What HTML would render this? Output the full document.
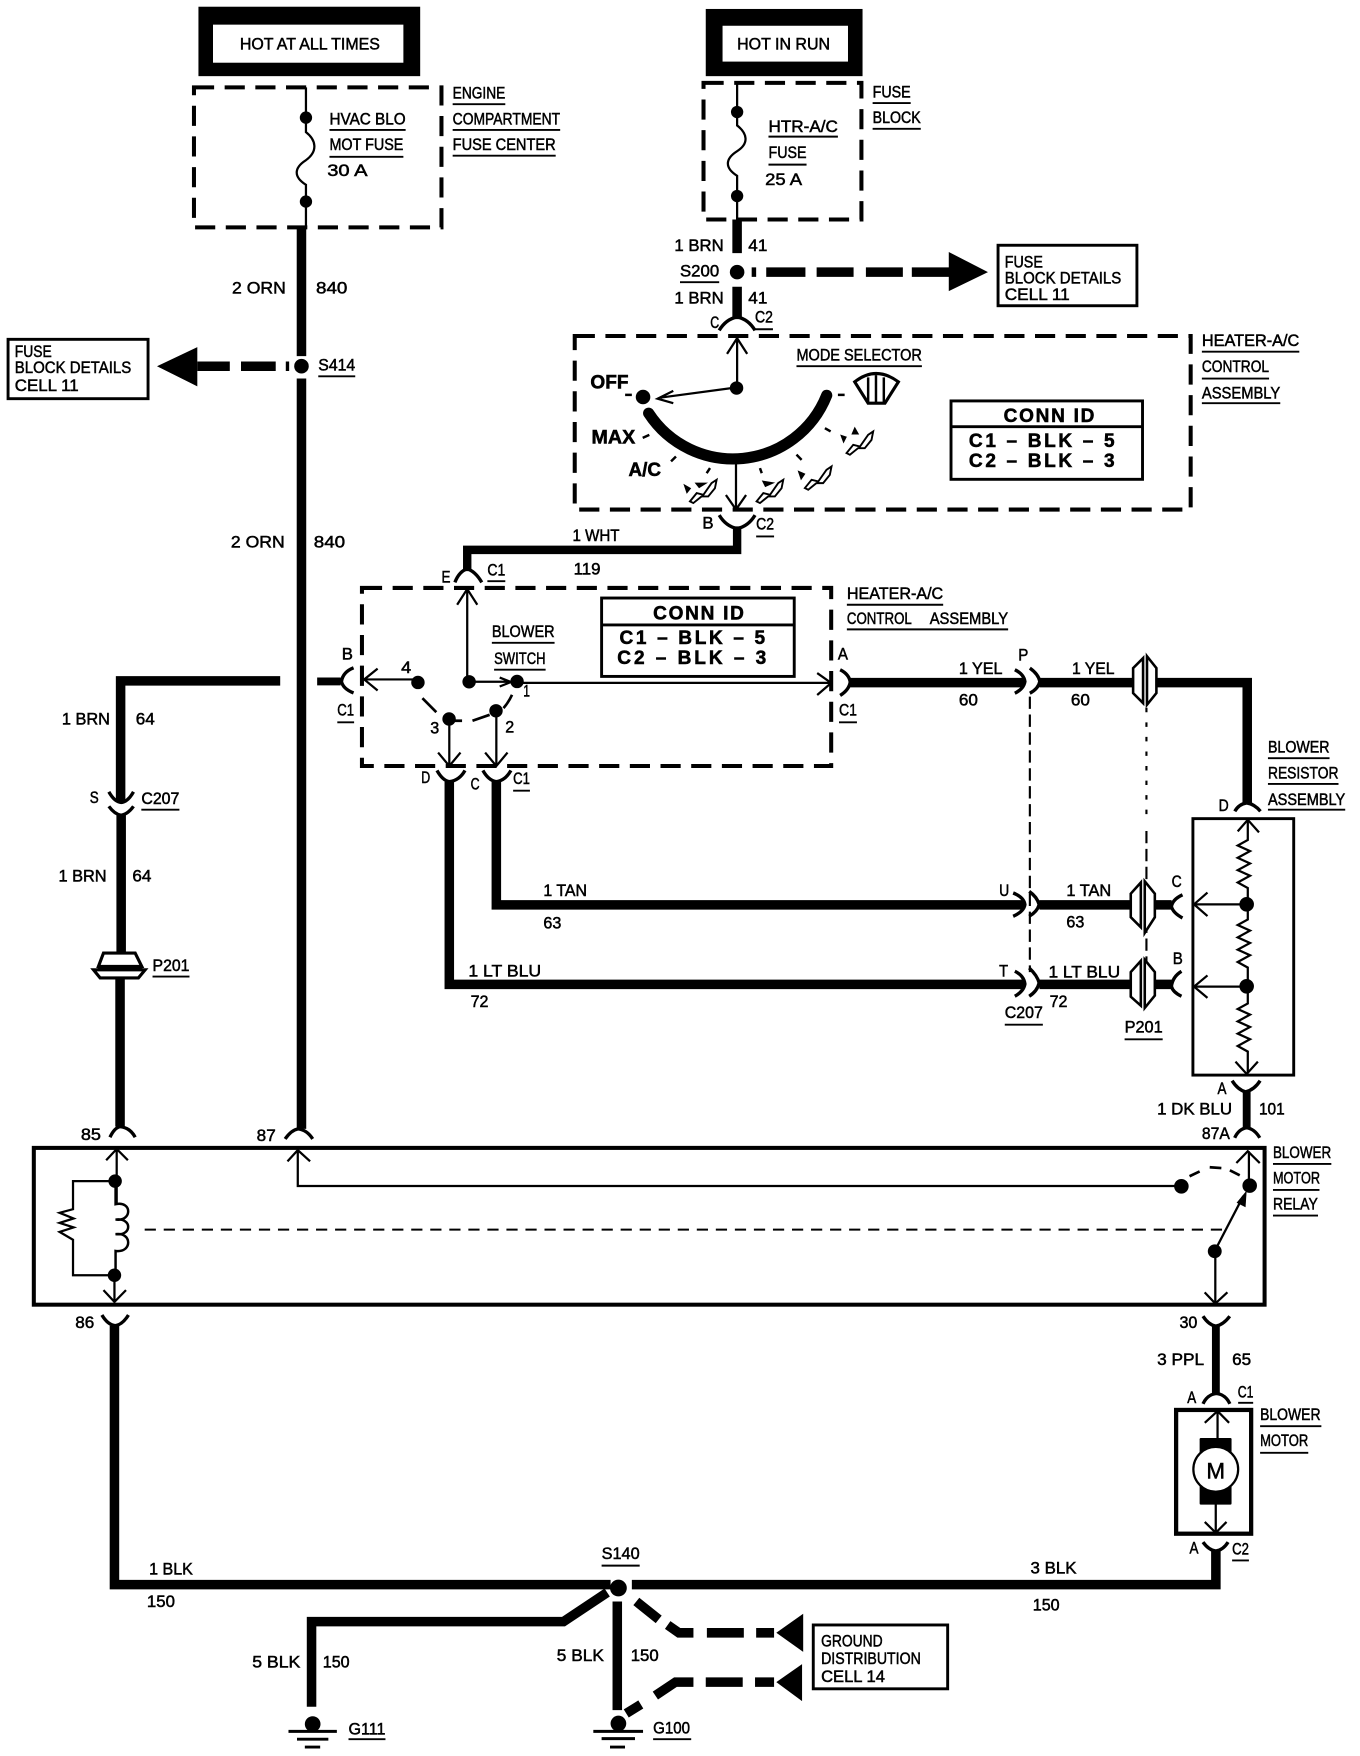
<!DOCTYPE html>
<html><head><meta charset="utf-8"><style>
html,body{margin:0;padding:0;background:#fff}
svg{display:block}
text{font-family:"Liberation Sans",sans-serif;font-size:15px;fill:#000;stroke:#000;stroke-width:.45}
.b{font-weight:bold;font-size:17px;stroke-width:.5}
.t{fill:none;stroke:#000;stroke-width:2}
.w{fill:none;stroke:#000;stroke-width:8.5}
.x{fill:none;stroke:#000;stroke-width:7}
.c{fill:none;stroke:#000;stroke-width:3}
.d{fill:none;stroke:#000;stroke-width:3.6;stroke-dasharray:18 9.4}
.n{fill:none;stroke:#000;stroke-width:1.9;stroke-dasharray:11 5}
.u{fill:none;stroke:#000;stroke-width:1.7}
.s{fill:none;stroke:#000;stroke-width:2.6}
</style></head><body>
<svg xmlns="http://www.w3.org/2000/svg" width="1360" height="1756" viewBox="0 0 1214 1568">
<rect width="1214" height="1568" fill="#fff"/>
<!-- power boxes -->
<rect x="177" y="6" width="198" height="62" fill="#000"/><rect x="190" y="22" width="170" height="34" fill="#fff"/>
<rect x="630" y="8" width="140" height="60" fill="#000"/><rect x="645" y="23" width="112" height="32" fill="#fff"/>
<!-- dashed boxes -->
<rect class="d" x="173" y="78" width="221" height="125"/>
<rect class="d" x="628" y="74" width="141" height="122"/>
<rect class="d" x="513" y="300" width="550" height="155"/>
<rect class="d" x="323" y="525" width="419" height="159"/>
<!-- info boxes -->
<rect class="s" x="7" y="303" width="125" height="53"/>
<rect class="s" x="891" y="219" width="124" height="54"/>
<rect class="s" x="726" y="1451" width="120" height="57"/>
<rect class="s" x="849" y="358" width="171" height="70"/><path class="s" d="M849 381H1020"/>
<rect class="s" x="537" y="534" width="172" height="70"/><path class="s" d="M537 558H709"/>
<rect class="s" x="1065" y="731" width="90" height="229"/>
<rect x="30" y="1025" width="1099" height="140" fill="none" stroke="#000" stroke-width="3.6"/>
<rect x="1050" y="1259" width="67" height="110.5" fill="none" stroke="#000" stroke-width="3.8"/>
<!-- thick wires -->
<path class="w" d="M269 203V318M269 338V1008"/>
<path class="w" d="M658 196V226M658 256V285"/>
<path class="w" d="M658 470V491H417V510" style="stroke-width:7.5"/>
<path class="w" d="M250 608H107.500V716M108 728V855M107 873V1006"/>
<path class="x" d="M283 608.500H304"/>
<path class="w" d="M758 609.500H914M928 609.500H1014M1030 609.500H1113.500V718"/>
<path class="w" d="M443 698V808H914M928 808H1012M1030 808H1046"/>
<path class="w" d="M401 698V879H914M928 879H1012M1030 879H1046" />
<path class="x" d="M1113 975V1007"/>
<path class="w" d="M102 1184V1415H545M564 1415H1085.500V1385"/>
<path class="x" d="M1085.500 1184V1245"/>
<path class="w" d="M278 1524V1448H503L542 1422"/>
<path class="w" d="M551 1430V1527"/>
<!-- feed-through dashed wires -->
<path class="w" d="M176 327H205M215 327H246M255 327H258"/>
<polygon points="140,327 176,310 176,345"/>
<path class="w" d="M671 243H675M684 243H719M729 243H762M773 243H806M814 243H848"/>
<polygon points="882,243 847,225 847,260"/>
<path class="w" d="M568 1430L588 1446M596 1451L606 1458H619M631 1458H664M675 1458H691"/>
<polygon points="693,1458 717,1441 717,1475"/>
<path class="w" d="M559 1530L572 1522M585 1514L603 1502H619M630 1502H663M674 1502H691"/>
<polygon points="693,1502 716,1486 716,1519"/>
<!-- fuses -->
<path class="t" d="M273 78V118C282 125 284 135 273 143C262 150 262 158 273 165V203"/>
<path class="t" d="M658 74V112C667 119 669 128 658 135C647 142 647 150 658 157V196"/>
<!-- dots -->
<g>
<circle cx="273" cy="105" r="5.500"/><circle cx="273" cy="180" r="5.500"/>
<circle cx="658" cy="100" r="5.500"/><circle cx="658" cy="175" r="5.500"/>
<circle cx="269" cy="327" r="6.500"/><circle cx="658" cy="243" r="6.500"/>
<circle cx="657.500" cy="346.500" r="6"/><circle cx="574" cy="354.500" r="6.500"/>
<circle cx="418.700" cy="608.800" r="6"/><circle cx="461.500" cy="608.500" r="6"/><circle cx="373" cy="609.400" r="6"/>
<circle cx="400.800" cy="642" r="6"/><circle cx="442.700" cy="634.700" r="6"/>
<circle cx="1113" cy="807.500" r="6.500"/><circle cx="1113" cy="880.700" r="6.500"/>
<circle cx="102.600" cy="1054.700" r="6"/><circle cx="102" cy="1138.700" r="6"/>
<circle cx="1054.700" cy="1059.300" r="6.500"/><circle cx="1115.700" cy="1058.700" r="6.500"/><circle cx="1084.500" cy="1117.300" r="6.200"/>
<circle cx="552" cy="1418" r="7.500"/>
<circle cx="279" cy="1539.500" r="7"/><circle cx="552" cy="1539" r="7"/>
</g>
<!-- mode selector -->
<path d="M579 369A90 90 0 0 0 738 353" fill="none" stroke="#000" stroke-width="10" stroke-linecap="round"/>
<path class="t" d="M658 346V302M649 316L658 302L667 316"/>
<path class="t" d="M657 346L590 355M601 349L587 356L601 360"/>
<path class="t" d="M657 410V455M648 442L657 455L666 442"/>
<path class="u" stroke-width="2" style="stroke-width:2.200" d="M558 352.600H564M748 352.600H754M573.700 391L579.600 388.300M599 412L603.400 407.600M630.800 422.500L633.800 418M678.400 418L680 422.500M711 406L715.600 410.600M736.400 382.300L741.500 385.300"/>
<path d="M763 341Q782 326 802 341L790 360H775Z" fill="none" stroke="#000" stroke-width="2.800"/>
<path d="M775 337V361M782 335V361M789 337V361" fill="none" stroke="#000" stroke-width="2.200"/>
<g id="seats" fill="#fff" stroke="#000" stroke-width="1.700">
<path id="st" d="M755.700 404.600L761.700 397.200L767.700 398.700L775 388.300L779.500 385.300L778 392.800L772 400.200L766 400.200L758.700 406.100Z"/>
<path d="M755.700 404.600L761.700 397.200L767.700 398.700L775 388.300L779.500 385.300L778 392.800L772 400.200L766 400.200L758.700 406.100Z" transform="translate(-37.200 31.200)"/>
<path d="M755.700 404.600L761.700 397.200L767.700 398.700L775 388.300L779.500 385.300L778 392.800L772 400.200L766 400.200L758.700 406.100Z" transform="translate(-80.300 43.100)"/>
<path d="M755.700 404.600L761.700 397.200L767.700 398.700L775 388.300L779.500 385.300L778 392.800L772 400.200L766 400.200L758.700 406.100Z" transform="translate(-139.800 43.100)"/>
</g>
<polygon points="750,388 756,390 753,396"/><polygon points="763,381 767,388 760,388"/>
<polygon points="712,420 719,423 715,429"/>
<polygon points="680,429 692,431 683,435"/>
<polygon points="610,432 617,436 613,441"/><polygon points="620,431 632,431 624,436"/>
<!-- blower switch -->
<path class="t" d="M417 608V526M408 540L417 526L426 540"/>
<path class="t" d="M418 608.800H455M446 605L456 609L446 613"/>
<path class="t" d="M462 609.800H741M729.500 601L742 609.800L729.500 620.600"/>
<path class="t" d="M373 606.700H326M337 597L325 606.700L337 616.600"/>
<path class="t" d="M401 642V683M391 672L401 684L411 672"/>
<path class="t" d="M443 635V683M433 672L443 684L453 672"/>
<path class="t" style="stroke-width:2.400" d="M377 623.400L389.400 635.900M404.700 643.600H412.400M421.700 643.600L437 638.300M449.400 632.300Q454 627 457 620.400"/>
<!-- resistor assembly -->
<path class="t" d="M1114 732V750L1105 755L1116 760L1105 766L1116 771L1105 777L1116 782L1105 788L1114 793V821L1105 826L1116 831L1105 837L1116 842L1105 848L1116 853L1105 859L1114 864V896L1105 901L1116 906L1105 912L1116 917L1105 923L1116 928L1105 934L1114 939V958"/>
<path class="t" d="M1105 742.400L1114 732L1124 743.300M1103 948L1113 959L1123 948"/>
<path class="t" d="M1113 807.500H1067M1078 797L1066 807.500L1078 818M1113 881H1067M1078 871L1066 881L1078 891"/>
<!-- harness ties -->
<path class="n" d="M919.400 622V868"/>
<path class="n" style="stroke-dasharray:4 9" d="M1023.500 632V735"/>
<path class="n" d="M1023.500 742V860"/>
<!-- inline pins -->
<g fill="#fff" stroke="#000" stroke-width="2.300">
<path d="M1011.600 596.600L1020.500 587.700V627.800L1011.600 618.900Z"/><path d="M1024 586L1032.400 596.600V618.900L1024 629.300Z"/>
<path d="M1009.500 798L1018.500 788V828L1009.500 819Z"/><path d="M1022 787L1031 798V819L1022 833Z"/>
<path d="M1009.500 868L1018.500 858V898L1009.500 890Z"/><path d="M1022 857L1031 868V889L1022 900Z"/>
<path d="M87.700 863L92.200 851H120.500L126.400 863Z" stroke-width="2.800"/>
<path d="M83.300 866H129.400L123.400 873.200H89.200Z" stroke-width="2.800"/>
</g>
<path d="M87 864.500H127" stroke="#000" stroke-width="3"/>
<!-- connectors -->
<path class="c" d="M642 295Q648 285 658 283Q668 285 674 295"/>
<path class="c" d="M642 460Q648 470 658 472Q668 470 674 460"/>
<path class="c" d="M406 520Q410 510 417 508Q424 510 430 520"/>
<path class="c" d="M315.500 596.300Q306 600 304.700 608.500Q306 615 315.500 618.800"/>
<path class="c" d="M750 598Q758 602 759 609Q758 616 750 621"/>
<path class="c" d="M906 598Q914 602 915 608.500Q914 615 906 619M919.400 596.600Q927 602 928.300 608.500Q927 615 919.400 619"/>
<path class="c" d="M904.500 797.400Q914 801 915 807.800Q914 814 904.500 818.200M918.800 796Q926 801 927.700 807.800Q926 814 918.800 818.200"/>
<path class="c" d="M906 867.300Q914 871 915 878.600Q914 885 906 889.600M918.800 864.300Q926 871 927.700 877.700Q926 885 918.800 889.600"/>
<path class="c" d="M1055.700 799Q1047 803 1045.800 809.300Q1047 815 1055.700 819.700"/>
<path class="c" d="M1054.800 867.300Q1047 872 1045.800 880.700Q1047 886 1054.800 889.600"/>
<path class="c" d="M390 688Q395 697 401 698Q410 697 415 688"/>
<path class="c" d="M431 688Q436 697 443 698Q451 697 456 688"/>
<path class="c" d="M97 707Q102 716 108 716.500Q114 716 119 707"/>
<path class="c" d="M97 720Q102 727 108 728Q114 727 119 720"/>
<path class="c" d="M98 1015.500Q102 1007 107 1006Q116 1007 120.500 1015.500"/>
<path class="c" d="M254.400 1017Q260 1009 266 1008Q274 1009 279 1017"/>
<path class="c" d="M1102.300 1016Q1106 1008 1113 1007Q1120 1008 1124.700 1016"/>
<path class="c" d="M1102.400 724.500Q1106 718 1113 717Q1120 718 1125.300 724.500"/>
<path class="c" d="M1100 965Q1105 973 1112 975Q1120 973 1125 965"/>
<path class="c" d="M90.800 1174.200Q96 1183 102.700 1183.700Q109 1183 114.500 1174.200"/>
<path class="c" d="M1074 1175.300Q1079 1183 1085.400 1184.200Q1092 1183 1097.900 1175.300"/>
<path class="c" d="M1074 1253.500Q1078 1245 1086 1244.300Q1094 1245 1098 1253.500"/>
<path class="c" d="M1074 1377Q1079 1384 1085.400 1385Q1092 1384 1096.400 1377"/>
<!-- relay -->
<path class="t" d="M104 1027V1076M94.600 1036L104 1026L114 1036"/>
<path class="t" d="M92.200 1152L102 1162.500L112.300 1152M102 1138V1162"/>
<path class="t" d="M103 1054.700H65V1079.700L53 1083L65.500 1088L53 1092L65.500 1096L53 1100L65 1107V1138.700H102"/>
<path class="t" style="stroke-width:2.200" d="M103 1060V1075.300C118 1072 118 1091 103 1089C118 1087 118 1104 103 1102C118 1100 118 1119 103 1117V1138"/>
<path class="n" style="stroke-width:1.800;stroke-dasharray:10 7" d="M129 1098H1095"/>
<path class="t" d="M265.700 1027V1059H1055M256.500 1037L265.700 1027L276.700 1037"/>
<path class="t" style="stroke-width:2.400" d="M1062 1050.300L1071 1046M1080 1042.300L1090.400 1043M1098 1045L1106.800 1049.500"/>
<path class="t" d="M1115 1059V1028M1103.800 1038.500L1114 1028L1124.700 1038.500"/>
<path class="t" d="M1084.500 1117L1110 1068"/>
<polygon points="1113,1063 1112,1078 1104,1074"/>
<path class="t" d="M1085 1117V1163M1075.500 1154L1085 1164L1095.800 1154"/>
<!-- motor -->
<path class="t" d="M1087 1261V1284M1075.600 1270.500L1087 1260L1097.300 1270.500M1085.400 1343V1368M1075.600 1359L1085.400 1368.700L1095 1359"/>
<rect x="1071" y="1284" width="28.500" height="59.500" rx="1"/>
<circle cx="1085.400" cy="1312" r="20" fill="#fff" stroke="#000" stroke-width="2"/>
<text x="1085.400" y="1320" text-anchor="middle" style="font-size:20px">M</text>
<!-- grounds -->
<path class="s" d="M257.400 1546H300.600M265 1553H293M272 1560H285.700M529.600 1546H574M537 1552.500H566.800M544.500 1560H557.900"/>
<!-- underlines -->
<path class="u" d="M294 116H362M294 140H360M404 93H451M404 116H500M404 139H496M284 336H317M686 122H748M686 147H720M779 92H813M779 115H822M607 252H642M674 294H690M711 327H823M1073 314H1160M1073 338H1133M1073 360H1143M675 479H691M435 519H451M439 574H495M441 598H487M756 540H842M756 562H900M301 645H316M749 645H765M458 706H473M126 723H160M136 872H169M897 915H931M1004 928H1038M1132 677H1187M1132 700H1195M1132 723H1201M1136.500 1039.300H1188.600M1136.500 1062.500H1178M1136.500 1085.400H1176.700M1125 1273.500H1179.700M1125 1297.300H1168M1105.400 1252.600H1118.800M1100 1393.400H1115M537 1398H571M311 1553H344M583 1553H617"/>
<!-- labels -->
<text x="214" y="44" textLength="125" lengthAdjust="spacingAndGlyphs">HOT AT ALL TIMES</text>
<text x="658" y="44" textLength="83" lengthAdjust="spacingAndGlyphs">HOT IN RUN</text>
<text x="294" y="111" textLength="68" lengthAdjust="spacingAndGlyphs">HVAC BLO</text>
<text x="294" y="134" textLength="66" lengthAdjust="spacingAndGlyphs">MOT FUSE</text>
<text x="292" y="157" textLength="36" lengthAdjust="spacingAndGlyphs">30 A</text>
<text x="404" y="88" textLength="47" lengthAdjust="spacingAndGlyphs">ENGINE</text>
<text x="404" y="111" textLength="96" lengthAdjust="spacingAndGlyphs">COMPARTMENT</text>
<text x="404" y="134" textLength="92" lengthAdjust="spacingAndGlyphs">FUSE CENTER</text>
<text x="207" y="262" textLength="48" lengthAdjust="spacingAndGlyphs">2 ORN</text>
<text x="282" y="262" textLength="28" lengthAdjust="spacingAndGlyphs">840</text>
<text x="206" y="489" textLength="48" lengthAdjust="spacingAndGlyphs">2 ORN</text>
<text x="280" y="489" textLength="28" lengthAdjust="spacingAndGlyphs">840</text>
<text x="284" y="331" textLength="33" lengthAdjust="spacingAndGlyphs">S414</text>
<text x="13" y="319" textLength="33" lengthAdjust="spacingAndGlyphs">FUSE</text>
<text x="13" y="333" textLength="104" lengthAdjust="spacingAndGlyphs">BLOCK DETAILS</text>
<text x="13" y="349" textLength="57" lengthAdjust="spacingAndGlyphs">CELL 11</text>
<text x="686" y="118" textLength="62" lengthAdjust="spacingAndGlyphs">HTR-A/C</text>
<text x="686" y="141" textLength="34" lengthAdjust="spacingAndGlyphs">FUSE</text>
<text x="683" y="165" textLength="33" lengthAdjust="spacingAndGlyphs">25 A</text>
<text x="779" y="87" textLength="34" lengthAdjust="spacingAndGlyphs">FUSE</text>
<text x="779" y="110" textLength="43" lengthAdjust="spacingAndGlyphs">BLOCK</text>
<text x="602" y="224" textLength="44" lengthAdjust="spacingAndGlyphs">1 BRN</text>
<text x="668" y="224" textLength="17" lengthAdjust="spacingAndGlyphs">41</text>
<text x="607" y="247" textLength="35" lengthAdjust="spacingAndGlyphs">S200</text>
<text x="602" y="271" textLength="44" lengthAdjust="spacingAndGlyphs">1 BRN</text>
<text x="668" y="271" textLength="17" lengthAdjust="spacingAndGlyphs">41</text>
<text x="897" y="239" textLength="34" lengthAdjust="spacingAndGlyphs">FUSE</text>
<text x="897" y="253" textLength="104" lengthAdjust="spacingAndGlyphs">BLOCK DETAILS</text>
<text x="897" y="268" textLength="58" lengthAdjust="spacingAndGlyphs">CELL 11</text>
<text x="634" y="293" textLength="8" lengthAdjust="spacingAndGlyphs">C</text>
<text x="674" y="288" textLength="16" lengthAdjust="spacingAndGlyphs">C2</text>
<text class="b" x="527" y="347" textLength="34" lengthAdjust="spacingAndGlyphs">OFF</text>
<text class="b" x="528" y="396" textLength="39" lengthAdjust="spacingAndGlyphs">MAX</text>
<text class="b" x="561" y="425" textLength="29" lengthAdjust="spacingAndGlyphs">A/C</text>
<text x="711" y="322" textLength="112" lengthAdjust="spacingAndGlyphs">MODE SELECTOR</text>
<text class="b" x="896" y="377" textLength="81" lengthAdjust="spacing">CONN ID</text>
<text class="b" x="865" y="399" textLength="130" lengthAdjust="spacing">C1 – BLK – 5</text>
<text class="b" x="865" y="417" textLength="130" lengthAdjust="spacing">C2 – BLK – 3</text>
<text x="1073" y="309" textLength="87" lengthAdjust="spacingAndGlyphs">HEATER-A/C</text>
<text x="1073" y="332" textLength="60" lengthAdjust="spacingAndGlyphs">CONTROL</text>
<text x="1073" y="356" textLength="70" lengthAdjust="spacingAndGlyphs">ASSEMBLY</text>
<text x="627" y="472" textLength="10" lengthAdjust="spacingAndGlyphs">B</text>
<text x="675" y="473" textLength="16" lengthAdjust="spacingAndGlyphs">C2</text>
<text x="511" y="483" textLength="42" lengthAdjust="spacingAndGlyphs">1 WHT</text>
<text x="512" y="513" textLength="24" lengthAdjust="spacingAndGlyphs">119</text>
<text x="394" y="520" textLength="8" lengthAdjust="spacingAndGlyphs">E</text>
<text x="435" y="514" textLength="16" lengthAdjust="spacingAndGlyphs">C1</text>
<text x="439" y="569" textLength="56" lengthAdjust="spacingAndGlyphs">BLOWER</text>
<text x="441" y="593" textLength="46" lengthAdjust="spacingAndGlyphs">SWITCH</text>
<text class="b" x="583" y="553" textLength="81" lengthAdjust="spacing">CONN ID</text>
<text class="b" x="553" y="575" textLength="130" lengthAdjust="spacing">C1 – BLK – 5</text>
<text class="b" x="551" y="593" textLength="133" lengthAdjust="spacing">C2 – BLK – 3</text>
<text x="756" y="535" textLength="86" lengthAdjust="spacingAndGlyphs">HEATER-A/C</text>
<text x="756" y="557" textLength="58" lengthAdjust="spacingAndGlyphs">CONTROL</text>
<text x="830" y="557" textLength="70" lengthAdjust="spacingAndGlyphs">ASSEMBLY</text>
<text x="305" y="589" textLength="10" lengthAdjust="spacingAndGlyphs">B</text>
<text x="301" y="639" textLength="15" lengthAdjust="spacingAndGlyphs">C1</text>
<text x="358" y="601" textLength="9" lengthAdjust="spacingAndGlyphs">4</text>
<text x="467" y="622" textLength="6" lengthAdjust="spacingAndGlyphs">1</text>
<text x="384" y="655" textLength="8" lengthAdjust="spacingAndGlyphs">3</text>
<text x="451" y="654" textLength="8" lengthAdjust="spacingAndGlyphs">2</text>
<text x="748" y="589" textLength="9" lengthAdjust="spacingAndGlyphs">A</text>
<text x="749" y="639" textLength="16" lengthAdjust="spacingAndGlyphs">C1</text>
<text x="856" y="602" textLength="39" lengthAdjust="spacingAndGlyphs">1 YEL</text>
<text x="856" y="630" textLength="17" lengthAdjust="spacingAndGlyphs">60</text>
<text x="909" y="590" textLength="9" lengthAdjust="spacingAndGlyphs">P</text>
<text x="957" y="602" textLength="38" lengthAdjust="spacingAndGlyphs">1 YEL</text>
<text x="956" y="630" textLength="17" lengthAdjust="spacingAndGlyphs">60</text>
<text x="1132" y="672" textLength="55" lengthAdjust="spacingAndGlyphs">BLOWER</text>
<text x="1132" y="695" textLength="63" lengthAdjust="spacingAndGlyphs">RESISTOR</text>
<text x="1132" y="719" textLength="69" lengthAdjust="spacingAndGlyphs">ASSEMBLY</text>
<text x="1088" y="724" textLength="9" lengthAdjust="spacingAndGlyphs">D</text>
<text x="376" y="699" textLength="8" lengthAdjust="spacingAndGlyphs">D</text>
<text x="420" y="705" textLength="8" lengthAdjust="spacingAndGlyphs">C</text>
<text x="458" y="700" textLength="15" lengthAdjust="spacingAndGlyphs">C1</text>
<text x="485" y="800" textLength="39" lengthAdjust="spacingAndGlyphs">1 TAN</text>
<text x="485" y="829" textLength="16" lengthAdjust="spacingAndGlyphs">63</text>
<text x="892" y="800" textLength="9" lengthAdjust="spacingAndGlyphs">U</text>
<text x="952" y="800" textLength="40" lengthAdjust="spacingAndGlyphs">1 TAN</text>
<text x="952" y="828" textLength="16" lengthAdjust="spacingAndGlyphs">63</text>
<text x="1046" y="792" textLength="9" lengthAdjust="spacingAndGlyphs">C</text>
<text x="418" y="872" textLength="65" lengthAdjust="spacingAndGlyphs">1 LT BLU</text>
<text x="420" y="899" textLength="16" lengthAdjust="spacingAndGlyphs">72</text>
<text x="892" y="872" textLength="8" lengthAdjust="spacingAndGlyphs">T</text>
<text x="936" y="873" textLength="64" lengthAdjust="spacingAndGlyphs">1 LT BLU</text>
<text x="937" y="899" textLength="16" lengthAdjust="spacingAndGlyphs">72</text>
<text x="897" y="909" textLength="34" lengthAdjust="spacingAndGlyphs">C207</text>
<text x="1004" y="922" textLength="34" lengthAdjust="spacingAndGlyphs">P201</text>
<text x="1047" y="861" textLength="9" lengthAdjust="spacingAndGlyphs">B</text>
<text x="55" y="647" textLength="43" lengthAdjust="spacingAndGlyphs">1 BRN</text>
<text x="121" y="647" textLength="17" lengthAdjust="spacingAndGlyphs">64</text>
<text x="80" y="717" textLength="8" lengthAdjust="spacingAndGlyphs">S</text>
<text x="126" y="718" textLength="34" lengthAdjust="spacingAndGlyphs">C207</text>
<text x="52" y="787" textLength="43" lengthAdjust="spacingAndGlyphs">1 BRN</text>
<text x="118" y="787" textLength="17" lengthAdjust="spacingAndGlyphs">64</text>
<text x="136" y="867" textLength="33" lengthAdjust="spacingAndGlyphs">P201</text>
<text x="1087" y="977" textLength="8" lengthAdjust="spacingAndGlyphs">A</text>
<text x="1033" y="995" textLength="67" lengthAdjust="spacingAndGlyphs">1 DK BLU</text>
<text x="1124" y="995" textLength="23" lengthAdjust="spacingAndGlyphs">101</text>
<text x="1073" y="1017" textLength="25" lengthAdjust="spacingAndGlyphs">87A</text>
<text x="72" y="1018" textLength="18" lengthAdjust="spacingAndGlyphs">85</text>
<text x="229" y="1019" textLength="17" lengthAdjust="spacingAndGlyphs">87</text>
<text x="1136.500" y="1034" textLength="52" lengthAdjust="spacingAndGlyphs">BLOWER</text>
<text x="1136.500" y="1057" textLength="42" lengthAdjust="spacingAndGlyphs">MOTOR</text>
<text x="1136.500" y="1080" textLength="40" lengthAdjust="spacingAndGlyphs">RELAY</text>
<text x="67" y="1186" textLength="17" lengthAdjust="spacingAndGlyphs">86</text>
<text x="1053" y="1186" textLength="16" lengthAdjust="spacingAndGlyphs">30</text>
<text x="1033" y="1219" textLength="42" lengthAdjust="spacingAndGlyphs">3 PPL</text>
<text x="1100" y="1219" textLength="17" lengthAdjust="spacingAndGlyphs">65</text>
<text x="1060" y="1253" textLength="8" lengthAdjust="spacingAndGlyphs">A</text>
<text x="1105" y="1248" textLength="14" lengthAdjust="spacingAndGlyphs">C1</text>
<text x="1125" y="1268" textLength="54" lengthAdjust="spacingAndGlyphs">BLOWER</text>
<text x="1125" y="1291" textLength="43" lengthAdjust="spacingAndGlyphs">MOTOR</text>
<text x="1062" y="1387" textLength="8" lengthAdjust="spacingAndGlyphs">A</text>
<text x="1100" y="1388" textLength="15" lengthAdjust="spacingAndGlyphs">C2</text>
<text x="133" y="1406" textLength="39" lengthAdjust="spacingAndGlyphs">1 BLK</text>
<text x="131" y="1435" textLength="25" lengthAdjust="spacingAndGlyphs">150</text>
<text x="537" y="1392" textLength="34" lengthAdjust="spacingAndGlyphs">S140</text>
<text x="920" y="1405" textLength="41" lengthAdjust="spacingAndGlyphs">3 BLK</text>
<text x="922" y="1438" textLength="24" lengthAdjust="spacingAndGlyphs">150</text>
<text x="225" y="1489" textLength="43" lengthAdjust="spacingAndGlyphs">5 BLK</text>
<text x="288" y="1489" textLength="24" lengthAdjust="spacingAndGlyphs">150</text>
<text x="497" y="1483" textLength="42" lengthAdjust="spacingAndGlyphs">5 BLK</text>
<text x="563" y="1483" textLength="25" lengthAdjust="spacingAndGlyphs">150</text>
<text x="733" y="1470" textLength="55" lengthAdjust="spacingAndGlyphs">GROUND</text>
<text x="733" y="1486" textLength="89" lengthAdjust="spacingAndGlyphs">DISTRIBUTION</text>
<text x="733" y="1502" textLength="57" lengthAdjust="spacingAndGlyphs">CELL 14</text>
<text x="311" y="1549" textLength="33" lengthAdjust="spacingAndGlyphs">G111</text>
<text x="583" y="1548" textLength="33" lengthAdjust="spacingAndGlyphs">G100</text>
</svg>
</body></html>
